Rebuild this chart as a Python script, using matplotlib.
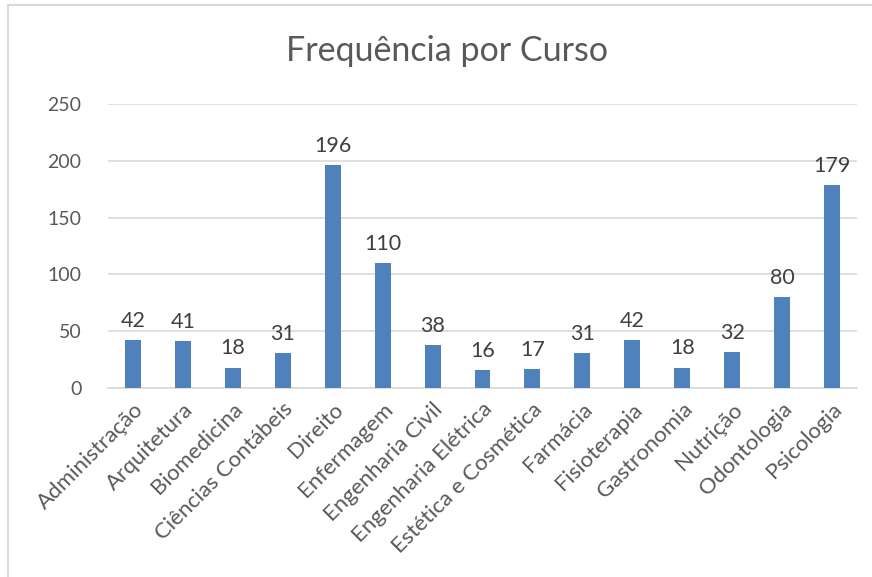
import matplotlib.pyplot as plt
from matplotlib.patches import Rectangle
import numpy as np

cursos = ["Administração", "Arquitetura", "Biomedicina", "Ciências Contábeis",
          "Direito", "Enfermagem", "Engenharia Civil", "Engenharia Elétrica",
          "Estética e Cosmética", "Farmácia", "Fisioterapia", "Gastronomia",
          "Nutrição", "Odontologia", "Psicologia"]
frequencia = [42, 41, 18, 31, 196, 110, 38, 16, 17, 31, 42, 18, 32, 80, 179]
yticks = [0, 50, 100, 150, 200, 250]

plt.rcParams['font.family'] = ['Lato', 'DejaVu Sans']
cinza = "#595959"

W, H = 872, 577
fig = plt.figure(figsize=(W / 100, H / 100), dpi=100)
# moldura da área do gráfico
fig.patches.append(Rectangle((8 / W, -0.1), 1.2, 1 - 5 / H + 0.1,
                             transform=fig.transFigure, fill=False,
                             edgecolor="#D9D9D9", linewidth=1.5))

ax = fig.add_axes([108 / W, 1 - 388 / H, (857 - 108) / W, (388 - 104) / H])
x = np.arange(len(cursos))
ax.bar(x, frequencia, width=0.32, color="#4F81BD", zorder=3)
for xi, v in zip(x, frequencia):
    ax.text(xi, v + 8, str(v), ha="center", va="bottom", fontsize=15.5, color="#404040")

ax.set_xlim(-0.5, len(cursos) - 0.5)
ax.set_ylim(0, 250)
ax.set_yticks(yticks)
ax.set_yticklabels([str(t) for t in yticks], fontsize=14, color=cinza)
ax.set_xticks(x)
ax.set_xticklabels(cursos, rotation=45, ha="right", rotation_mode="anchor",
                   fontsize=16, color=cinza)
ax.tick_params(axis="both", length=0)
ax.tick_params(axis="y", pad=19)
ax.tick_params(axis="x", pad=8)
ax.grid(axis="y", color="#D9D9D9", linewidth=1.2, zorder=0)
for s in ["top", "right", "left"]:
    ax.spines[s].set_visible(False)
ax.spines["bottom"].set_color("#D9D9D9")
ax.spines["bottom"].set_linewidth(1.2)

fig.text(447 / W, 1 - 51 / H, "Frequência por Curso", ha="center", va="center",
         fontsize=24.5, color=cinza)

fig.savefig("out.png", dpi=100)
